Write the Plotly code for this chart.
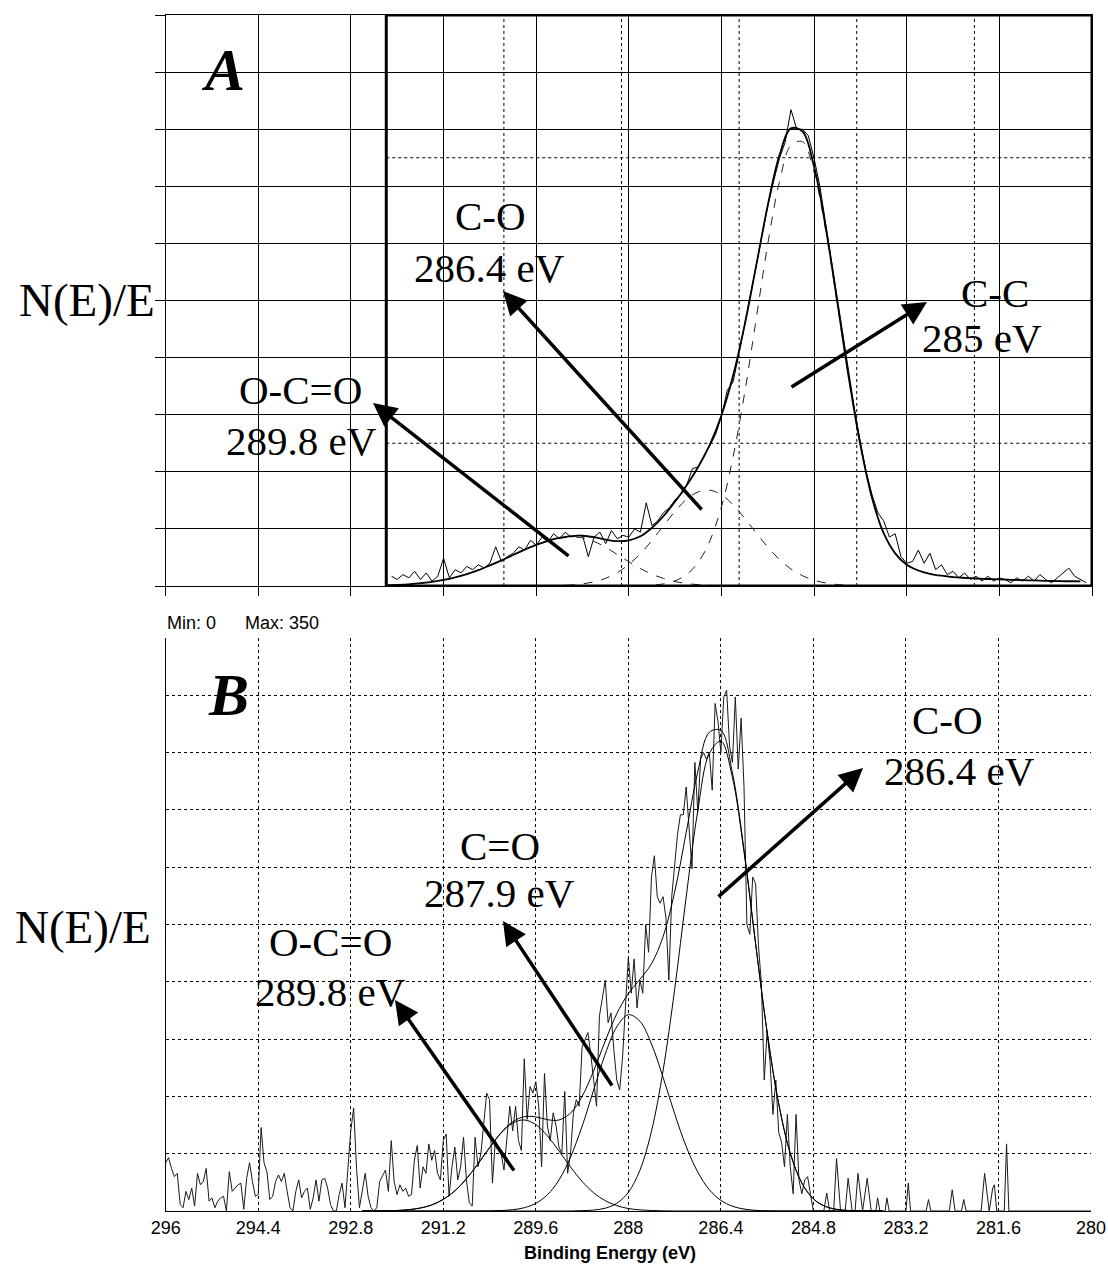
import plotly.graph_objects as go

W, H = 1108, 1264

# ---------------- Panel A data (binding energy, eV ; intensity, counts) ----------------
A_raw_E = [292.1, 292.0, 291.9, 291.8, 291.7, 291.6, 291.5, 291.4, 291.3, 291.2,
           291.1, 291.0, 290.9, 290.8, 290.7, 290.6, 290.5, 290.4, 290.3, 290.2,
           290.1, 290.0, 289.9, 289.8, 289.7, 289.6, 289.5, 289.4, 289.3, 289.2,
           289.1, 289.0, 288.9, 288.8, 288.7, 288.6, 288.5, 288.4, 288.3, 288.2,
           288.1, 288.0, 287.9, 287.8, 287.7, 287.6, 287.5, 287.4, 287.3, 287.2,
           287.1, 287.0, 286.9, 286.8, 286.7, 286.6, 286.5, 286.4, 286.3, 286.2,
           286.1, 286.0, 285.9, 285.8, 285.7, 285.6, 285.5, 285.4, 285.3, 285.2,
           285.1, 285.0, 284.9, 284.8, 284.7, 284.6, 284.5, 284.4, 284.3, 284.2,
           284.1, 284.0, 283.9, 283.8, 283.7, 283.6, 283.5, 283.4, 283.3, 283.2,
           283.1, 283.0, 282.9, 282.8, 282.7, 282.6, 282.5, 282.4, 282.3, 282.2,
           282.1, 282.0, 281.9, 281.8, 281.7, 281.6, 281.5, 281.4, 281.3, 281.2,
           281.1, 281.0, 280.9, 280.8, 280.7, 280.6, 280.5, 280.4, 280.3, 280.2, 280.1]
A_raw_val = [6, 4, 7, 5, 9, 4, 8, 3, 6, 17,
             5, 10, 8, 12, 10, 13, 11, 14, 24, 15,
             18, 20, 24, 22, 28, 25, 30, 27, 32, 29,
             33, 30, 31, 31, 18, 30, 33, 26, 34, 29,
             31, 30, 35, 33, 51, 37, 40, 45, 48, 53,
             56, 62, 72, 73, 80, 86, 93, 104, 120, 125,
             142, 160, 178, 196, 215, 233, 248, 262, 272, 292,
             280, 280, 276, 262, 245, 222, 198, 175, 152, 130,
             108, 88, 70, 56, 45, 40, 30, 32, 18, 14,
             15, 22, 14, 20, 10, 13, 7, 9, 5, 8,
             4, 6, 3, 6, 3, 5, 4, 2, 5, 3,
             6, 3, 7, 4, 2, 5, 8, 11, 6, 4, 2]

A_fit_E = [292.2, 292.0, 291.8, 291.6, 291.4, 291.2, 291.0, 290.8, 290.6, 290.4,
           290.2, 290.0, 289.8, 289.6, 289.4, 289.2, 289.0, 288.8, 288.6, 288.4,
           288.2, 288.0, 287.8, 287.6, 287.4, 287.2, 287.0, 286.8, 286.6, 286.4,
           286.2, 286.0, 285.8, 285.6, 285.4, 285.2, 285.0, 284.8, 284.6, 284.4,
           284.2, 284.0, 283.8, 283.6, 283.4, 283.2, 283.0, 282.8, 282.6, 282.4,
           282.2, 282.0, 281.8, 281.6, 281.4, 281.2, 281.0, 280.8, 280.6, 280.4, 280.2]
A_OCO = [0.4, 0.6, 1.0, 1.7, 2.5, 3.7, 5.3, 7.3, 9.7, 12.6,
         15.7, 19.0, 22.3, 25.2, 27.6, 29.2, 30.0, 29.5, 27.3, 23.7,
         19.3, 14.8, 10.7, 7.2, 4.6, 2.7, 1.5, 0.8, 0.4, 0.2,
         0.1, 0, 0, 0, 0, 0, 0, 0, 0, 0,
         0, 0, 0, 0, 0, 0, 0, 0, 0, 0,
         0, 0, 0, 0, 0, 0, 0, 0, 0, 0, 0]
A_CO = [0, 0, 0, 0, 0, 0, 0, 0, 0, 0,
        0, 0, 0, 0, 0.1, 0.3, 0.6, 1.3, 2.6, 4.7,
        8.2, 13.2, 19.8, 28.0, 37.0, 45.9, 53.2, 57.7, 58.7, 55.9,
        49.8, 41.6, 32.5, 23.8, 16.3, 10.4, 6.3, 3.5, 1.9, 0.9,
        0.4, 0.2, 0.1, 0, 0, 0, 0, 0, 0, 0,
        0, 0, 0, 0, 0, 0, 0, 0, 0, 0, 0]
A_CC = [0, 0, 0, 0, 0, 0, 0, 0, 0, 0,
        0, 0, 0, 0, 0, 0, 0, 0, 0, 0,
        0, 0, 0, 0.5, 1.3, 3.2, 7.1, 14.6, 27.7, 48.6,
        79.0, 118.3, 163.8, 209.6, 247.5, 270.1, 272.3, 253.5, 218.0, 173.2,
        127.1, 86.2, 54.0, 32.5, 20.0, 13.0, 9.5, 7.5, 6.3, 5.5,
        5.0, 4.6, 4.3, 4.0, 3.8, 3.6, 3.4, 3.2, 3.0, 2.9, 2.8]
A_env = [0.4, 0.6, 1.0, 1.7, 2.5, 3.7, 5.3, 7.3, 9.7, 12.6,
         15.7, 19.0, 22.3, 25.2, 27.7, 29.5, 30.6, 30.8, 29.9, 28.4,
         27.5, 28.0, 30.5, 35.7, 42.9, 51.8, 61.8, 73.1, 86.8, 104.7,
         128.9, 159.9, 196.4, 233.4, 263.8, 280.5, 278.6, 257.0, 219.9, 174.1,
         127.5, 86.4, 54.1, 32.5, 20.0, 13.0, 9.5, 7.5, 6.3, 5.5,
         5.0, 4.6, 4.3, 4.0, 3.8, 3.6, 3.4, 3.2, 3.0, 2.9, 2.8]

# ---------------- Panel B data ----------------
B_raw_E = [296.00, 295.95, 295.90, 295.85, 295.80, 295.75, 295.70, 295.65, 295.60, 295.55,
           295.50, 295.45, 295.40, 295.35, 295.30, 295.25, 295.20, 295.15, 295.10, 295.05,
           295.00, 294.95, 294.90, 294.85, 294.80, 294.75, 294.70, 294.65, 294.60, 294.55,
           294.50, 294.45, 294.40, 294.35, 294.30, 294.25, 294.20, 294.15, 294.10, 294.05,
           294.00, 293.95, 293.90, 293.85, 293.80, 293.75, 293.70, 293.65, 293.60, 293.55,
           293.50, 293.45, 293.40, 293.35, 293.30, 293.25, 293.20, 293.15, 293.10, 293.05,
           293.00, 292.95, 292.90, 292.85, 292.80, 292.75, 292.70, 292.65, 292.60, 292.55,
           292.50, 292.45, 292.40, 292.35, 292.30, 292.25, 292.20, 292.15, 292.10, 292.05,
           292.00, 291.95, 291.90, 291.85, 291.80, 291.75, 291.70, 291.65, 291.60, 291.55,
           291.50, 291.45, 291.40, 291.35, 291.30, 291.25, 291.20, 291.15, 291.10, 291.05,
           291.00, 290.95, 290.90, 290.85, 290.80, 290.75, 290.70, 290.65, 290.60, 290.55,
           290.50, 290.45, 290.40, 290.35, 290.30, 290.25, 290.20, 290.15, 290.10, 290.05,
           290.00, 289.95, 289.90, 289.85, 289.80, 289.75, 289.70, 289.65, 289.60, 289.55,
           289.50, 289.45, 289.40, 289.35, 289.30, 289.25, 289.20, 289.15, 289.10, 289.05,
           289.00, 288.95, 288.90, 288.85, 288.80, 288.75, 288.70, 288.65, 288.60, 288.55,
           288.50, 288.45, 288.40, 288.35, 288.30, 288.25, 288.20, 288.15, 288.10, 288.05,
           288.00, 287.95, 287.90, 287.85, 287.80, 287.75, 287.70, 287.65, 287.60, 287.55,
           287.50, 287.45, 287.40, 287.35, 287.30, 287.25, 287.20, 287.15, 287.10, 287.05,
           287.00, 286.95, 286.90, 286.85, 286.80, 286.75, 286.70, 286.65, 286.60, 286.55,
           286.50, 286.45, 286.40, 286.35, 286.30, 286.25, 286.20, 286.15, 286.10, 286.05,
           286.00, 285.95, 285.90, 285.85, 285.80, 285.75, 285.70, 285.65, 285.60, 285.55,
           285.50, 285.45, 285.40, 285.35, 285.30, 285.25, 285.20, 285.15, 285.10, 285.05,
           285.00, 284.95, 284.90, 284.85, 284.80,
           284.7, 284.62, 284.57, 284.52, 284.45, 284.4, 284.33, 284.25, 284.2, 284.13,
           284.08, 284.03, 283.95, 283.87, 283.8, 283.72, 283.69, 283.65, 283.56, 283.53,
           283.49, 283.2, 283.16, 283.12, 282.85, 282.81, 282.77, 282.45, 282.4, 282.35,
           282.24, 282.2, 282.16, 281.9, 281.84, 281.76, 281.7, 281.67, 281.63, 281.5,
           281.46, 281.42, 280.0]
B_raw_val = [29.5, 32.6, 26, 21, 23, 4, 2, 12, 7, 14,
             3, 23, 16, 18, 26, 6, 8, 2, 6, 8,
             9, 0, 24, 12, 14, 16, 17, 1, 20, 29.5,
             18, 9, 10, 51, 29.5, 24, 7, 9, 18, 22,
             18, 23, 12, 2, 0, 12, 19, 8, 12, 14,
             1, 8, 19, 6, 19, 20, 14, 4, 0, 0,
             10, 17, 2, 26, 49, 63, 26, 2, 12, 23,
             9, 2, 0, 2, 18, 22, 25, 12, 43, 18,
             10, 16, 12, 14, 9, 10, 31, 40, 14, 27,
             23, 41, 31, 37, 23, 19, 43, 47, 9, 27,
             39, 19, 27, 45, 19, 5, 3, 45, 27, 35,
             52, 72, 68, 17, 43, 39, 35, 25, 43, 64,
             49, 64, 43, 37, 93, 56, 76, 72, 79, 64,
             27, 84, 52, 43, 60, 52, 39, 35, 73, 23,
             35, 60, 68, 64, 100, 105, 109, 96, 80, 64,
             119, 129, 141, 115, 121, 98, 80, 74, 94, 125,
             155, 133, 154, 124, 141, 133, 175, 158, 204, 217,
             192, 188, 192, 179, 141, 192, 213, 230, 242, 242,
             259, 234, 209, 274, 244, 276, 280, 276, 280, 257,
             310, 299, 280, 314, 318, 284, 274, 314, 270, 301,
             259, 175, 169, 204, 200, 162, 139, 80, 110, 91,
             59, 80, 48, 42, 27, 59, 27, 10.5, 59, 19,
             10.5, 19, 21, 10, 0,
             0, 0, 11, 0, 0, 32, 0, 0, 20, 0,
             0, 23, 0, 20, 0, 0, 8, 0, 0, 8,
             0, 0, 17, 0, 0, 7, 0, 0, 13, 0,
             0, 7, 0, 0, 23, 0, 14, 16, 0, 0,
             41, 0, 0]

B_fit_E = [292.6, 292.4, 292.2, 292.0, 291.8, 291.6, 291.4, 291.2, 291.0, 290.8,
           290.6, 290.4, 290.2, 290.0, 289.8, 289.6, 289.4, 289.2, 289.0, 288.8,
           288.6, 288.4, 288.2, 288.0, 287.8, 287.6, 287.4, 287.2, 287.0, 286.8,
           286.6, 286.4, 286.2, 286.0, 285.8, 285.6, 285.4, 285.2, 285.0, 284.8,
           284.6, 284.4, 284.2, 284.0, 283.8, 283.6]
B_OCO = [0, 0, 0.1, 0.3, 0.8, 1.8, 3.7, 7.1, 12.3, 19.7,
         28.8, 38.6, 47.6, 53.7, 55.6, 52.8, 45.9, 36.7, 26.9, 18.1,
         11.1, 6.3, 3.3, 1.5, 0.7, 0.3, 0.1, 0, 0, 0,
         0, 0, 0, 0, 0, 0, 0, 0, 0, 0,
         0, 0, 0, 0, 0, 0]
B_CeqO = [0, 0, 0, 0, 0, 0, 0, 0, 0, 0,
          0, 0.1, 0.3, 0.8, 2.0, 4.7, 9.9, 18.9, 32.9, 51.7,
          73.9, 95.8, 112.5, 119.9, 115.9, 102.0, 81.7, 59.5, 39.4, 23.8,
          13.0, 6.5, 2.9, 1.2, 0.4, 0.1, 0, 0, 0, 0,
          0, 0, 0, 0, 0, 0]
B_CO = [0, 0, 0, 0, 0, 0, 0, 0, 0, 0,
        0, 0, 0, 0, 0, 0, 0, 0, 0, 0.2,
        0.6, 1.7, 4.7, 11.4, 24.9, 48.7, 85.7, 135.2, 191.8, 244.3,
        279.4, 287.0, 264.7, 219.4, 163.2, 109.1, 65.5, 35.3, 17.1, 7.4,
        2.9, 1.0, 0.3, 0.1, 0, 0]
B_env = [0, 0, 0.1, 0.3, 0.8, 1.8, 3.7, 7.1, 12.3, 19.7,
         28.8, 38.7, 47.9, 54.5, 57.6, 57.5, 55.8, 55.6, 59.8, 70.0,
         85.6, 103.8, 120.5, 132.8, 141.5, 151.0, 167.5, 194.7, 231.2, 268.1,
         292.4, 293.5, 267.6, 220.6, 163.6, 109.2, 65.5, 35.3, 17.1, 7.4,
         2.9, 1.0, 0.3, 0.1, 0, 0]

x_ticks = [296, 294.4, 292.8, 291.2, 289.6, 288, 286.4, 284.8, 283.2, 281.6, 280]
x_tick_text = ["296", "294.4", "292.8", "291.2", "289.6", "288", "286.4", "284.8", "283.2", "281.6", "280"]
y_min, y_max, y_step = 0, 350, 35

# inner (instrument) window of panel A
A_box_left, A_box_right = 292.19, 280.0

SERIF = "Liberation Serif, Times New Roman, serif"
SANS = "Liberation Sans, Arial, sans-serif"

fig = go.Figure()

# Panel A traces
fig.add_trace(go.Scatter(x=A_raw_E, y=A_raw_val, mode="lines", xaxis="x", yaxis="y",
                         line=dict(color="black", width=1)))
for comp in (A_OCO, A_CO, A_CC):
    fig.add_trace(go.Scatter(x=A_fit_E, y=comp, mode="lines", xaxis="x", yaxis="y",
                             line=dict(color="#222", width=1, dash="dash", shape="spline")))
fig.add_trace(go.Scatter(x=A_fit_E, y=A_env, mode="lines", xaxis="x", yaxis="y",
                         line=dict(color="black", width=1.8, shape="spline")))

# Panel B traces
fig.add_trace(go.Scatter(x=B_raw_E, y=B_raw_val, mode="lines", xaxis="x2", yaxis="y2",
                         line=dict(color="#1a1a1a", width=1)))
for comp in (B_OCO, B_CeqO, B_CO):
    fig.add_trace(go.Scatter(x=B_fit_E, y=comp, mode="lines", xaxis="x2", yaxis="y2",
                             line=dict(color="black", width=1, shape="spline")))
fig.add_trace(go.Scatter(x=B_fit_E, y=B_env, mode="lines", xaxis="x2", yaxis="y2",
                         line=dict(color="black", width=1, shape="spline")))

A_dom_x = [165.7 / W, 1092 / W]
A_dom_y = [1 - 586 / H, 1 - 15 / H]
B_dom_x = [165.7 / W, 1091 / W]
B_dom_y = [1 - 1211 / H, 1 - 638 / H]

common_x = dict(range=[296, 280], tickmode="array", tickvals=x_ticks, showgrid=True,
                gridcolor="black", gridwidth=1, zeroline=False, linecolor="black",
                automargin=False)
common_y = dict(range=[y_min, y_max], dtick=y_step, tick0=0, showgrid=True,
                gridcolor="black", gridwidth=1, zeroline=False, linecolor="black",
                showticklabels=False, automargin=False)

fig.update_layout(
    width=W, height=H, margin=dict(l=0, r=0, t=0, b=0, pad=0, autoexpand=False),
    paper_bgcolor="white", plot_bgcolor="white", showlegend=False,
    xaxis=dict(**common_x, domain=A_dom_x, anchor="y", showticklabels=False,
               ticks="outside", ticklen=9, tickcolor="black", showline=True, mirror=True),
    yaxis=dict(**common_y, domain=A_dom_y, anchor="x",
               ticks="outside", ticklen=10, tickcolor="black", showline=True, mirror=True),
    xaxis2=dict(**common_x, domain=B_dom_x, anchor="y2", griddash="dot",
                ticktext=x_tick_text, showticklabels=True, ticks="",
                tickfont=dict(family=SANS, size=18, color="black"), showline=True, mirror=False),
    yaxis2=dict(**common_y, domain=B_dom_y, anchor="x2", griddash="dot",
                showline=True, mirror=False),
)

# Panel A inner window: dotted 6 x 4 grid and heavy frame
shapes = []
step_x = (A_box_left - A_box_right) / 6
for k in range(1, 6):
    xv = A_box_left - k * step_x
    shapes.append(dict(type="line", xref="x", yref="y", x0=xv, x1=xv, y0=y_min, y1=y_max,
                       line=dict(color="black", width=1, dash="dot"), layer="below"))
for k in range(1, 4):
    yv = y_max * k / 4
    shapes.append(dict(type="line", xref="x", yref="y", x0=A_box_left, x1=A_box_right, y0=yv, y1=yv,
                       line=dict(color="black", width=1, dash="dot"), layer="below"))
shapes.append(dict(type="rect", xref="x", yref="y", x0=A_box_left, x1=A_box_right, y0=y_min, y1=y_max,
                   line=dict(color="black", width=3), layer="above"))
fig.update_layout(shapes=shapes)

def P(xp, yp):
    return xp / W, 1 - yp / H

ann = []
def text(t, xp, yp, size=41, family=SERIF, xanchor="center"):
    x, y = P(xp, yp)
    ann.append(dict(text=t, x=x, y=y, xref="paper", yref="paper", showarrow=False,
                    xanchor=xanchor, yanchor="middle", font=dict(family=family, size=size, color="black")))

def arrow(tip, tail):
    x, y = P(*tip)
    ann.append(dict(text="", x=x, y=y, xref="paper", yref="paper", showarrow=True,
                    ax=tail[0] - tip[0], ay=tail[1] - tip[1], axref="pixel", ayref="pixel",
                    arrowhead=2, arrowsize=1.35, arrowwidth=3.5, arrowcolor="black", standoff=0))

# Panel A labels
text("<b><i>A</i></b>", 223, 70, size=60)
text("N(E)/E", 87, 300, size=47)
text("C-O", 490, 216)
text("286.4 eV", 489, 268)
text("C-C", 995, 293)
text("285 eV", 982, 338)
text("O-C=O", 300, 390)
text("289.8 eV", 301, 441)
arrow((503, 291), (703, 511))
arrow((927, 302), (790, 388))
arrow((373, 403), (570, 557))

# Panel B labels
text("Min: 0", 165, 623, size=18, family=SANS, xanchor="left")
text("Max: 350", 243, 623, size=18, family=SANS, xanchor="left")
text("<b><i>B</i></b>", 228, 695, size=60)
text("N(E)/E", 83, 927, size=47)
text("C-O", 947, 720)
text("286.4 eV", 959, 771)
text("C=O", 500, 846)
text("287.9 eV", 500, 893)
text("O-C=O", 330, 942)
text("289.8 eV", 330, 992)
text("<b>Binding Energy (eV)</b>", 610, 1253, size=18, family=SANS)
arrow((863, 768), (717, 898))
arrow((503, 921), (613, 1087))
arrow((395, 1000), (515, 1172))

fig.update_layout(annotations=ann)

fig.write_html("out.html")
